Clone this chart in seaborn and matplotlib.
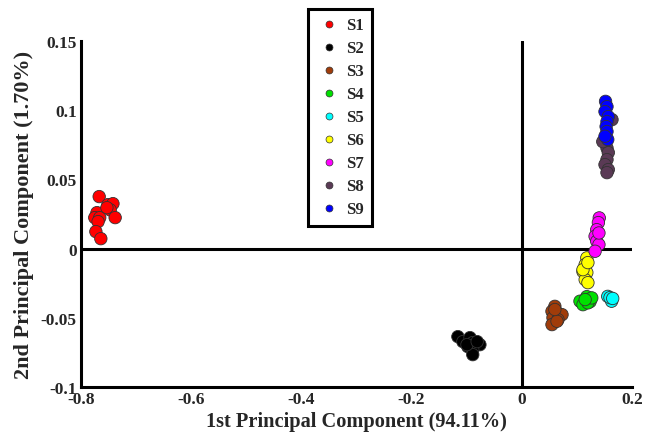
import numpy as np
import pandas as pd
import matplotlib
matplotlib.use("Agg")
import matplotlib.pyplot as plt
from matplotlib.lines import Line2D
import seaborn as sns

# PCA scores per sample group (PC1, PC2)
s1_x = [-0.767, -0.751, -0.742, -0.747, -0.738, -0.771, -0.775, -0.766, -0.769, -0.773, -0.764, -0.753]
s1_y = [0.0376, 0.0318, 0.0325, 0.0280, 0.0224, 0.0260, 0.0224, 0.0224, 0.0195, 0.0123, 0.0072, 0.0296]
s2_x = [-0.116, -0.107, -0.094, -0.089, -0.076, -0.098, -0.089, -0.089, -0.0995, -0.081]
s2_y = [-0.0636, -0.0672, -0.0643, -0.0679, -0.0694, -0.0708, -0.0730, -0.0766, -0.0694, -0.0672]
s3_x = [0.060, 0.0548, 0.0639, 0.073, 0.0566, 0.0657, 0.0548, 0.0639, 0.060]
s3_y = [-0.0417, -0.0453, -0.0462, -0.0477, -0.0499, -0.0513, -0.0549, -0.0525, -0.044]
s4_x = [0.1056, 0.118, 0.124, 0.111, 0.120, 0.127, 0.115]
s4_y = [-0.038, -0.0347, -0.0383, -0.0405, -0.0392, -0.0356, -0.0368]
s5_x = [0.156, 0.163, 0.160, 0.165]
s5_y = [-0.0345, -0.038, -0.0354, -0.036]
s6_x = [0.118, 0.115, 0.111, 0.118, 0.115, 0.120, 0.111, 0.120]
s6_y = [-0.0067, -0.0116, -0.0166, -0.0173, -0.0224, -0.0246, -0.0152, -0.0101]
s7_x = [0.1406, 0.139, 0.136, 0.133, 0.136, 0.140, 0.133, 0.140]
s7_y = [0.0222, 0.0188, 0.0137, 0.0089, 0.0053, 0.0029, -0.0019, 0.0113]
s8_x = [0.151, 0.1546, 0.157, 0.1546, 0.151, 0.157, 0.1546, 0.1637, 0.147]
s8_y = [0.0788, 0.0727, 0.0694, 0.0643, 0.0607, 0.0571, 0.0549, 0.0932, 0.0773]
s9_x = [0.152, 0.1546, 0.151, 0.157, 0.1546, 0.153, 0.1546, 0.156, 0.151]
s9_y = [0.1064, 0.1026, 0.0990, 0.0954, 0.0918, 0.0882, 0.0846, 0.0788, 0.0812]

groups = ["S1", "S2", "S3", "S4", "S5", "S6", "S7", "S8", "S9"]
colors = ["#ff0000", "#000000", "#a03c0a", "#00e000", "#00ffff",
          "#ffff00", "#ff00ff", "#5a3a55", "#0000ff"]
xs = [s1_x, s2_x, s3_x, s4_x, s5_x, s6_x, s7_x, s8_x, s9_x]
ys = [s1_y, s2_y, s3_y, s4_y, s5_y, s6_y, s7_y, s8_y, s9_y]

x_ticks = [-0.8, -0.6, -0.4, -0.2, 0, 0.2]
x_tick_labels = ["-0.8", "-0.6", "-0.4", "-0.2", "0", "0.2"]
y_ticks = [-0.1, -0.05, 0, 0.05, 0.1, 0.15]
y_tick_labels = ["-0.1", "-0.05", "0", "0.05", "0.1", "0.15"]

df = pd.DataFrame({
    "PC1": np.concatenate(xs),
    "PC2": np.concatenate(ys),
    "group": np.concatenate([[g] * len(x) for g, x in zip(groups, xs)]),
})

sns.set_style("white")
plt.rcParams["font.family"] = ["Liberation Serif", "DejaVu Serif"]
plt.rcParams["font.weight"] = "bold"

fig = plt.figure(figsize=(6.49, 4.35), dpi=100)
ax = fig.add_axes([0.1248, 0.108, 0.8490, 0.7954])

# reference axes through the origin
ax.plot([-0.8, 0.2], [0, 0], color="black", lw=2.2, zorder=1)
ax.plot([0, 0], [-0.1, 0.15], color="black", lw=2.2, zorder=1)

sns.scatterplot(data=df, x="PC1", y="PC2", hue="group", hue_order=groups,
                palette=colors, s=80, edgecolor="#333333", linewidth=0.6,
                legend=False, ax=ax, zorder=3)

ax.set_xlim(-0.8, 0.2)
ax.set_ylim(-0.1, 0.15)
ax.set_xticks(x_ticks)
ax.set_xticklabels(x_tick_labels)
ax.set_yticks(y_ticks)
ax.set_yticklabels(y_tick_labels)
ax.tick_params(direction="in", length=5, width=1.8, labelsize=12.5, pad=3)
for lab in ax.get_xticklabels() + ax.get_yticklabels():
    lab.set_fontweight("bold")

for side in ["top", "right"]:
    ax.spines[side].set_visible(False)
for side in ["left", "bottom"]:
    ax.spines[side].set_linewidth(2.2)
    ax.spines[side].set_color("black")

ax.set_xlabel("1st Principal Component (94.11%)", fontsize=14.7, fontweight="bold", labelpad=3)
ax.set_ylabel("2nd Principal Component (1.70%)", fontsize=16, fontweight="bold", labelpad=5)

handles = [Line2D([0], [0], marker="o", linestyle="none", markersize=5,
                  markerfacecolor=c, markeredgecolor="#333333", markeredgewidth=0.5)
           for c in colors]
leg = fig.legend(handles, groups, loc="upper left", bbox_to_anchor=(0.4746, 0.977),
                 borderaxespad=0, frameon=True, fancybox=False, framealpha=1,
                 edgecolor="black", prop={"size": 12, "weight": "bold"},
                 labelspacing=0.42, handletextpad=0.26, handlelength=1.5,
                 borderpad=0.5)
leg.get_frame().set_linewidth(2.2)

fig.savefig("out.png", dpi=100)
